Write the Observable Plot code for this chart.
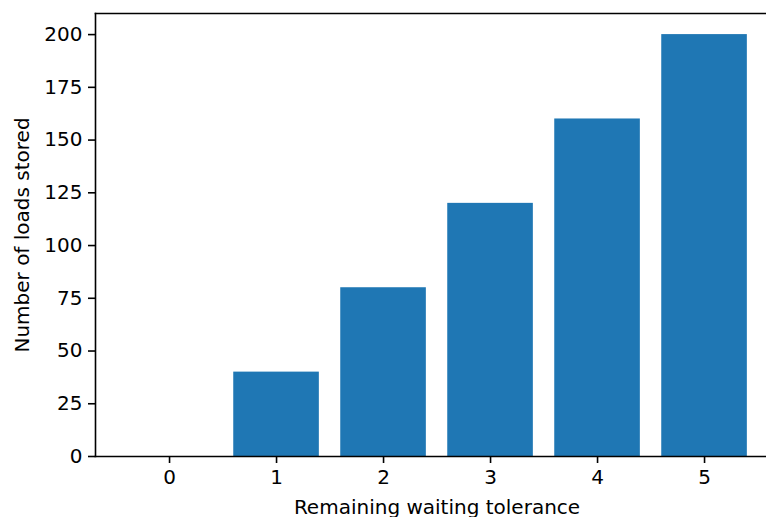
<!DOCTYPE html>
<html>
<head>
<meta charset="utf-8">
<script src="https://cdn.jsdelivr.net/npm/d3@7"></script>
<script src="https://cdn.jsdelivr.net/npm/@observablehq/plot@0.6"></script>
<style>
  html, body { margin: 0; padding: 0; background: #fff; }
  svg { display: block; }
</style>
</head>
<body>
<div id="chart"></div>
<script>
const categories = [0, 1, 2, 3, 4, 5];
const loads = [0, 40, 80, 120, 160, 200];
const yTicks = [0, 25, 50, 75, 100, 125, 150, 175, 200];
const xLabel = "Remaining waiting tolerance";
const yLabel = "Number of loads stored";

const data = categories.map((c, i) => ({k: c, v: loads[i]}));
const barHalf = 0.4;

const chart = Plot.plot({
  width: 766,
  height: 517,
  marginLeft: 95,
  marginTop: 13,
  marginBottom: 61,
  marginRight: 0,
  style: {fontFamily: "DejaVu Sans", fontSize: "20px", color: "#000", background: "#fff"},
  x: {type: "linear", domain: [-0.692, 5.579]},
  y: {domain: [0, 210]},
  marks: [
    Plot.rectY(data, {x1: d => d.k - barHalf, x2: d => d.k + barHalf, y1: 0, y2: "v", fill: "#1f77b4"}),
    Plot.frame({anchor: "left", stroke: "#000", strokeWidth: 1.6}),
    Plot.frame({anchor: "top", stroke: "#000", strokeWidth: 1.6}),
    Plot.frame({anchor: "bottom", stroke: "#000", strokeWidth: 1.6}),
    Plot.axisX({ticks: categories, tickFormat: d3.format("d"), tickSize: 7, tickPadding: 6, label: null, fontSize: 20, strokeWidth: 1.6}),
    Plot.axisY({ticks: yTicks, tickFormat: d3.format("d"), tickSize: 7, tickPadding: 6, label: null, fontSize: 20, strokeWidth: 1.6}),
    Plot.text([xLabel], {frameAnchor: "bottom", textAnchor: "middle", dx: 6, dy: 57, fontSize: 20, fill: "#000"}),
    Plot.text([yLabel], {frameAnchor: "left", textAnchor: "middle", dx: -73, rotate: -90, fontSize: 20, fill: "#000"})
  ]
});
document.getElementById("chart").appendChild(chart);
</script>
</body>
</html>
